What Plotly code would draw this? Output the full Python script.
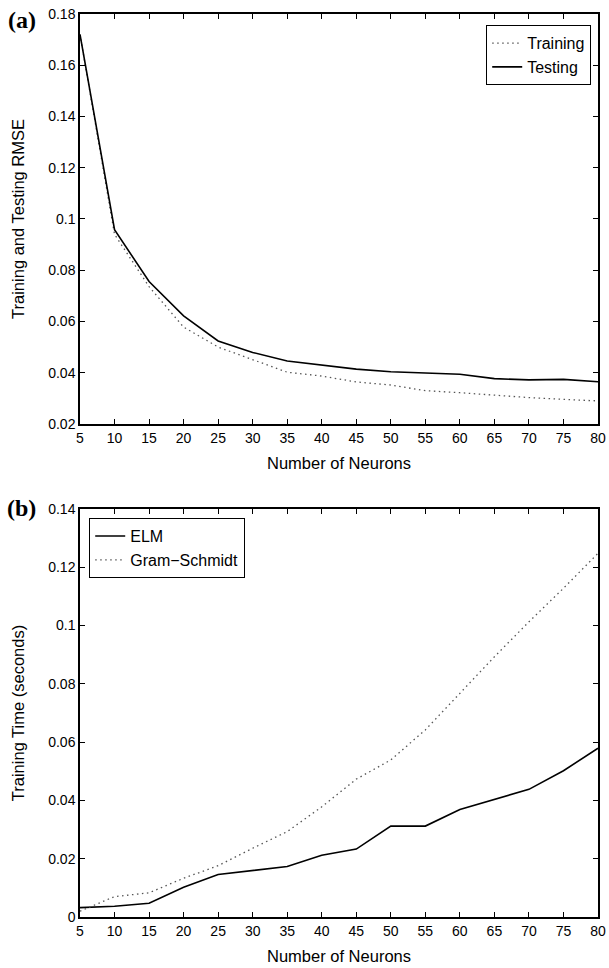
import plotly.graph_objects as go

neurons = [5, 10, 15, 20, 25, 30, 35, 40, 45, 50, 55, 60, 65, 70, 75, 80]
training_rmse = [0.172, 0.094, 0.0736, 0.0578, 0.0500, 0.0450, 0.0402, 0.0387, 0.0364, 0.0352,
                 0.0330, 0.0322, 0.0312, 0.0303, 0.0296, 0.0290]
testing_rmse = [0.172, 0.0958, 0.0756, 0.0622, 0.0524, 0.0479, 0.0446, 0.0430, 0.0414, 0.0404,
                0.0400, 0.0394, 0.0377, 0.0372, 0.0374, 0.0365]
elm_time = [0.0032, 0.0037, 0.0047, 0.0102, 0.0146, 0.0160, 0.0173, 0.0212, 0.0233, 0.0312,
            0.0312, 0.0369, 0.0404, 0.0438, 0.0502, 0.0579]
gs_time = [0.0020, 0.0070, 0.0083, 0.0133, 0.0176, 0.0236, 0.0293, 0.0378, 0.0473, 0.0539,
           0.0642, 0.0767, 0.0893, 0.1013, 0.1128, 0.1248]

x_ticks = [5, 10, 15, 20, 25, 30, 35, 40, 45, 50, 55, 60, 65, 70, 75, 80]
y1_ticks = [0.02, 0.04, 0.06, 0.08, 0.1, 0.12, 0.14, 0.16, 0.18]
y1_labels = ["0.02", "0.04", "0.06", "0.08", "0.1", "0.12", "0.14", "0.16", "0.18"]
y2_ticks = [0, 0.02, 0.04, 0.06, 0.08, 0.1, 0.12, 0.14]
y2_labels = ["0", "0.02", "0.04", "0.06", "0.08", "0.1", "0.12", "0.14"]

FONT = "Liberation Sans, Arial, sans-serif"
DOT_COLOR = "#555555"
DOT_DASH = "1.5px,3.5px"

fig = go.Figure()
fig.add_trace(go.Scatter(x=neurons, y=training_rmse, mode="lines", name="Training",
                         line=dict(color=DOT_COLOR, width=1.3, dash=DOT_DASH),
                         xaxis="x", yaxis="y", legend="legend"))
fig.add_trace(go.Scatter(x=neurons, y=testing_rmse, mode="lines", name="Testing",
                         line=dict(color="black", width=1.6),
                         xaxis="x", yaxis="y", legend="legend"))
fig.add_trace(go.Scatter(x=neurons, y=elm_time, mode="lines", name="ELM",
                         line=dict(color="black", width=1.6),
                         xaxis="x2", yaxis="y2", legend="legend2"))
fig.add_trace(go.Scatter(x=neurons, y=gs_time, mode="lines", name="Gram\u2212Schmidt",
                         line=dict(color=DOT_COLOR, width=1.3, dash=DOT_DASH),
                         xaxis="x2", yaxis="y2", legend="legend2"))

axis_common = dict(showline=True, linecolor="black", linewidth=1.5, mirror="ticks",
                   ticks="inside", ticklen=5, tickwidth=1, tickcolor="black",
                   showgrid=False, zeroline=False, automargin=False,
                   tickfont=dict(family=FONT, size=14, color="black"))
title_font = dict(family=FONT, size=16.5, color="black")

fig.update_layout(
    width=609, height=968,
    margin=dict(l=80, r=11, t=14, b=51),
    paper_bgcolor="white", plot_bgcolor="white",
    font=dict(family=FONT, color="black"),
    xaxis=dict(domain=[0, 1], anchor="y", range=[5, 80], tickvals=x_ticks,
               title=dict(text="Number of Neurons", font=title_font, standoff=13),
               **axis_common),
    yaxis=dict(domain=[0.546, 1.0], anchor="x", range=[0.02, 0.18], tickvals=y1_ticks,
               ticktext=y1_labels,
               title=dict(text="Training and Testing RMSE", font=title_font, standoff=19),
               **axis_common),
    xaxis2=dict(domain=[0, 1], anchor="y2", range=[5, 80], tickvals=x_ticks,
                title=dict(text="Number of Neurons", font=title_font, standoff=13),
                **axis_common),
    yaxis2=dict(domain=[0, 0.4518], anchor="x2", range=[0, 0.14], tickvals=y2_ticks,
                ticktext=y2_labels,
                title=dict(text="Training Time (seconds)", font=title_font, standoff=19),
                **axis_common),
    legend=dict(x=0.9865, y=0.9878, xanchor="right", yanchor="top",
                bgcolor="white", bordercolor="black", borderwidth=1.2,
                font=dict(family=FONT, size=16), tracegroupgap=0,
                itemwidth=30),
    legend2=dict(x=0.0174, y=0.4419, xanchor="left", yanchor="top",
                 bgcolor="white", bordercolor="black", borderwidth=1.2,
                 font=dict(family=FONT, size=16), tracegroupgap=0,
                 itemwidth=30),
    showlegend=True,
)

fig.add_annotation(text="<b>(a)</b>", xref="paper", yref="paper", x=-0.112, y=0.9934,
                   xanchor="center", yanchor="middle", showarrow=False,
                   font=dict(family="Liberation Serif, Times New Roman, serif", size=24, color="black"))
fig.add_annotation(text="<b>(b)</b>", xref="paper", yref="paper", x=-0.112, y=0.4529,
                   xanchor="center", yanchor="middle", showarrow=False,
                   font=dict(family="Liberation Serif, Times New Roman, serif", size=24, color="black"))

fig.write_html("out.html")
